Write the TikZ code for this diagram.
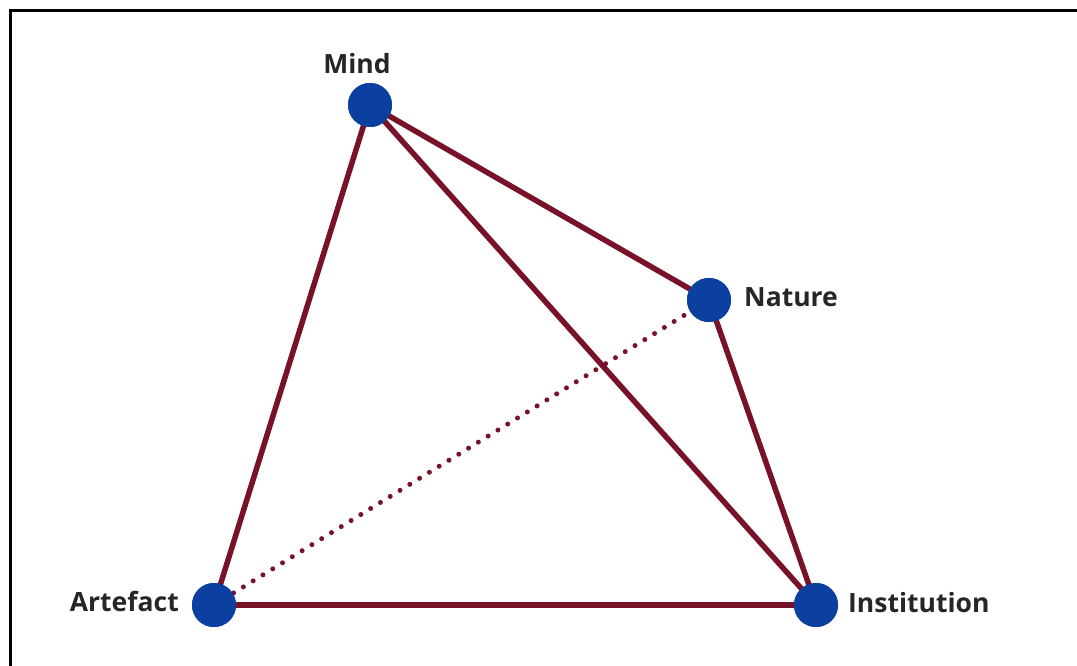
\documentclass[tikz,border=0pt]{standalone}
\usepackage{fontspec}
\setmainfont{Open Sans}
\definecolor{edgec}{RGB}{120,18,40}
\definecolor{nodec}{RGB}{12,64,160}
\begin{document}
\begin{tikzpicture}[x=1pt,y=-1pt,
  vtx/.style={circle,fill=nodec,minimum size=44pt,inner sep=0pt},
  lbl/.style={font=\fontsize{26.5}{31}\selectfont\bfseries,text=black!85,inner sep=0pt},
  edge/.style={draw=edgec,line width=5.5pt},
  dotedge/.style={draw=edgec,line width=5pt,line cap=round,dash pattern=on 0pt off 11.5pt}]
\useasboundingbox (0,0) rectangle (1077,666);
\fill[white] (0,0) rectangle (1077,666);
\draw[line width=3pt,black] (10,700) -- (10,11) -- (1100,11);
\node[vtx] (mind) at (370,105) {};
\node[vtx] (nature) at (709,300) {};
\node[vtx] (artefact) at (214,605) {};
\node[vtx] (inst) at (816,605) {};
\draw[dotedge] (artefact.center) -- (nature.center);
\draw[edge] (mind.center) -- (artefact.center);
\draw[edge] (mind.center) -- (inst.center);
\draw[edge] (mind.center) -- (nature.center);
\draw[edge] (nature.center) -- (inst.center);
\draw[edge] (artefact.center) -- (inst.center);
\node[vtx] at (mind) {};
\node[vtx] at (nature) {};
\node[vtx] at (artefact) {};
\node[vtx] at (inst) {};
\node[lbl] (lmind) at (357,64) {Mind};
\node[lbl,anchor=west] (lnature) at (744,297) {Nature};
\node[lbl,anchor=east] (lart) at (179,601) {Artefact};
\node[lbl,anchor=west] (linst) at (848,603) {Institution};
\end{tikzpicture}
\end{document}
